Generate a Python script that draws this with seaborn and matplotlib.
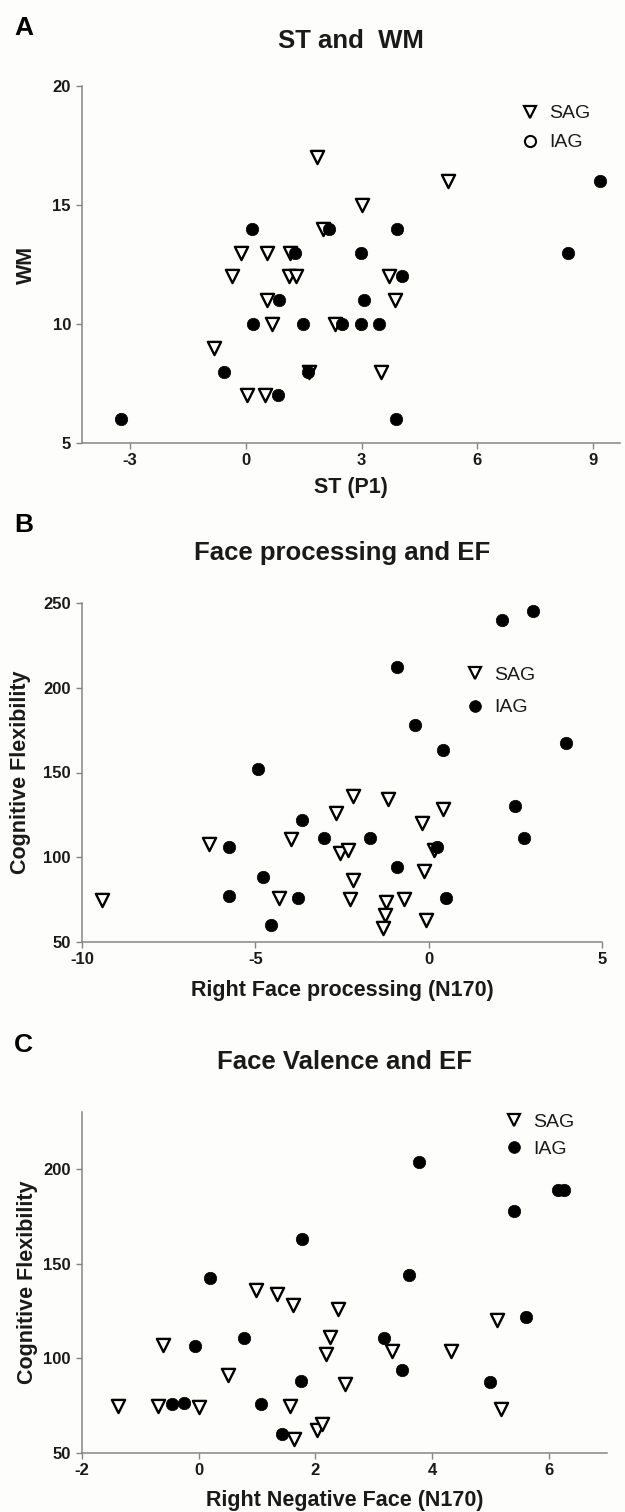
import matplotlib
matplotlib.use("Agg")
import matplotlib.pyplot as plt
import seaborn as sns
import pandas as pd
from matplotlib.lines import Line2D

# ---------------- Panel A: ST and WM ----------------
a_sag_x = [1.84, 2.0, -0.13, 0.55, 1.14, -0.36, 1.11, 1.30, 0.54, 0.68, 2.31, -0.82, 1.64, 0.04, 0.49, 5.25, 3.0, 3.71, 3.86, 3.51]
a_sag_y = [17, 14, 13, 13, 13, 12, 12, 12, 11, 10, 10, 9, 8, 7, 7, 16, 15, 12, 11, 8]
a_iag_x = [0.16, 2.16, 1.28, 0.87, 0.19, 1.47, 2.49, -0.58, 1.62, 0.84, -3.25, 9.18, 3.91, 2.99, 8.35, 4.05, 3.06, 2.99, 3.46, 3.90]
a_iag_y = [14, 14, 13, 11, 10, 10, 10, 8, 8, 7, 6, 16, 14, 13, 13, 12, 11, 10, 10, 6]
a_xticks = [-3, 0, 3, 6, 9]
a_yticks = [5, 10, 15, 20]

# ---------------- Panel B: Face processing and EF ----------------
b_sag_x = [-9.42, -6.33, -4.33, -3.97, -2.19, -1.16, -2.67, 0.41, -0.20, -2.55, -2.34, 0.14, -0.13, -2.19, -2.26, -0.71, -1.22, -1.26, -0.09, -1.32]
b_sag_y = [75, 107.6, 75.7, 111, 136.2, 134.4, 126.4, 128.2, 120.3, 102.6, 104.2, 104.2, 91.7, 86.4, 75.2, 75.3, 73.7, 65.9, 63, 58]
b_iag_x = [-5.76, -4.92, -4.79, -5.76, -4.55, -3.77, -3.65, 3.01, 2.12, -0.91, -0.39, 0.42, 3.97, 2.48, -3.02, -1.68, 2.75, 0.24, -0.91, 0.51]
b_iag_y = [106.2, 152, 88.1, 77.1, 60, 76.1, 121.9, 245, 240, 212, 178, 163, 167.3, 130.1, 111.3, 111.3, 111.3, 106.2, 94.4, 76.1]
b_xticks = [-10, -5, 0, 5]
b_yticks = [50, 100, 150, 200, 250]

# ---------------- Panel C: Face Valence and EF ----------------
c_sag_x = [-1.39, -0.70, 0.0, -0.62, 0.50, 0.98, 1.35, 1.61, 1.57, 1.64, 2.02, 2.12, 2.38, 5.11, 2.25, 2.18, 3.32, 4.33, 2.50, 5.18]
c_sag_y = [75, 75, 74.2, 106.9, 91.1, 136.1, 134, 128.3, 75, 57.4, 62.2, 65.2, 126.2, 120, 111.1, 102.2, 103.9, 103.9, 86.2, 73.1]
c_iag_x = [-0.46, -0.25, -0.07, 0.20, 0.77, 1.06, 1.43, 1.77, 1.75, 3.77, 6.16, 6.27, 5.41, 3.60, 5.61, 3.17, 3.49, 4.99]
c_iag_y = [75.9, 76.6, 106.7, 142.2, 110.9, 75.9, 59.8, 162.9, 87.8, 203.7, 188.7, 188.7, 177.8, 143.8, 122, 110.9, 93.8, 87.6]
c_xticks = [-2, 0, 2, 4, 6]
c_yticks = [50, 100, 150, 200]

groups = ["SAG", "IAG"]

sns.set_style("ticks")
plt.rcParams['font.family'] = ['Liberation Sans', 'DejaVu Sans']

BG = "#fdfdfb"
SPINE = "#858585"
W, H = 625.0, 1512.0

fig = plt.figure(figsize=(6.25, 15.12), dpi=100, facecolor=BG)


def px_rect(left, top, right, bottom):
    return [left / W, 1 - bottom / H, (right - left) / W, (bottom - top) / H]


def panel(rect, sx, sy, ix, iy, xlim, ylim, xticks, yticks, xlabel, ylabel,
          title, letter, title_y, letter_y, leg_anchor, leg_spacing, hollow_leg,
          ylab_x, xlab_y):
    ax = fig.add_axes(px_rect(*rect), facecolor=BG)
    df = pd.DataFrame({
        "x": sx + ix,
        "y": sy + iy,
        "group": [groups[0]] * len(sx) + [groups[1]] * len(ix),
    })
    sns.scatterplot(data=df[df.group == "SAG"], x="x", y="y", marker="v", s=90,
                    color="white", edgecolor="black", linewidth=1.7, ax=ax,
                    legend=False, zorder=3)
    sns.scatterplot(data=df[df.group == "IAG"], x="x", y="y", marker="o", s=80,
                    color="black", edgecolor="black", linewidth=0.5, ax=ax,
                    legend=False, zorder=4)
    ax.set_xlim(*xlim)
    ax.set_ylim(*ylim)
    ax.set_xticks(xticks)
    ax.set_yticks(yticks)
    ax.set_xticklabels([str(t) for t in xticks])
    ax.set_yticklabels([str(t) for t in yticks])
    for s in ["top", "right"]:
        ax.spines[s].set_visible(False)
    for s in ["left", "bottom"]:
        ax.spines[s].set_color(SPINE)
        ax.spines[s].set_linewidth(1.1)
    ax.tick_params(axis="both", direction="out", length=4, width=1,
                   color=SPINE, labelcolor="#1a1a1a", labelsize=12)
    ax.tick_params(axis="y", pad=4.0)
    ax.tick_params(axis="x", pad=3.0)
    for lab in ax.get_xticklabels() + ax.get_yticklabels():
        lab.set_fontweight("bold")
    ax.set_xlabel(xlabel, fontsize=15.5, fontweight="bold", color="#1a1a1a")
    ax.set_ylabel(ylabel, fontsize=15.5, fontweight="bold", color="#1a1a1a")
    ax.xaxis.set_label_coords(0.5, xlab_y)
    ax.yaxis.set_label_coords(ylab_x, 0.5)

    cx = (rect[0] + rect[2]) / 2 / W
    fig.text(cx, 1 - title_y / H, title, ha="center", va="center",
             fontsize=18.5, fontweight="bold", color="#1a1a1a")
    fig.text(14 / W, 1 - letter_y / H, letter, ha="left", va="center",
             fontsize=19, fontweight="bold", color="black")

    handles = [
        Line2D([], [], linestyle="none", marker="v", markersize=9,
               markerfacecolor="white", markeredgecolor="black",
               markeredgewidth=1.6),
        Line2D([], [], linestyle="none", marker="o", markersize=8.5 if not hollow_leg else 8,
               markerfacecolor="none" if hollow_leg else "black",
               markeredgecolor="black", markeredgewidth=1.5 if hollow_leg else 0.5),
    ]
    leg = ax.legend(handles, groups, loc="center left", bbox_to_anchor=leg_anchor,
                    frameon=False, fontsize=14, handlelength=1.0,
                    handletextpad=0.5, borderpad=0, borderaxespad=0,
                    labelspacing=leg_spacing)
    for t in leg.get_texts():
        t.set_color("#1a1a1a")
    return ax


panel((82, 86, 620, 443), a_sag_x, a_sag_y, a_iag_x, a_iag_y,
      (-4.25, 9.7), (5, 20), a_xticks, a_yticks, "ST (P1)", "WM",
      "ST and  WM", "A", 41, 28, (0.814, 0.882), 0.58, True, -0.083, -0.095)

panel((82, 603, 602, 942), b_sag_x, b_sag_y, b_iag_x, b_iag_y,
      (-10, 5), (50, 250), b_xticks, b_yticks,
      "Right Face processing (N170)", "Cognitive Flexibility",
      "Face processing and EF", "B", 553, 525, (0.737, 0.740), 0.78, False,
      -0.098, -0.112)

panel((82, 1112, 607, 1453), c_sag_x, c_sag_y, c_iag_x, c_iag_y,
      (-2, 7), (50, 230), c_xticks, c_yticks,
      "Right Negative Face (N170)", "Cognitive Flexibility",
      "Face Valence and EF", "C", 1062, 1045, (0.804, 0.930), 0.47, False,
      -0.083, -0.109)

fig.savefig("out.png", dpi=100, facecolor=BG)
